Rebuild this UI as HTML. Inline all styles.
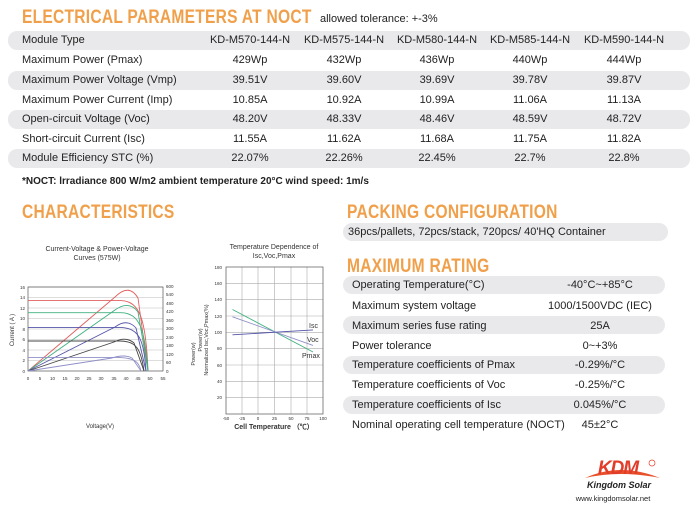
<!DOCTYPE html>
<html><head><meta charset="utf-8"><style>
body{margin:0;width:699px;height:518px;background:#fff;position:relative;overflow:hidden;font-family:"Liberation Sans",sans-serif;color:#222}
.a{position:absolute;white-space:nowrap}
.h{color:#f0a04b;font-weight:bold;font-size:19px;letter-spacing:0.3px;transform:scaleX(0.82);transform-origin:left top}
.g{position:absolute;background:#e9e9ec;border-radius:9px}
.t{font-size:11px}
.c{position:absolute;font-size:11px;text-align:center;width:100px;white-space:nowrap}
</style></head><body>
<div class="a h" style="left:22px;top:7px">ELECTRICAL PARAMETERS AT NOCT</div>
<div class="a" style="left:320px;top:13px;font-size:11px">allowed tolerance: +-3%</div>

<div class="g" style="left:8px;top:31px;width:682px;height:19px"></div>
<div class="g" style="left:8px;top:71px;width:682px;height:19px"></div>
<div class="g" style="left:8px;top:110px;width:682px;height:19px"></div>
<div class="g" style="left:8px;top:149px;width:682px;height:19px"></div>

<div class="a t" style="left:22px;top:34px">Module Type</div>
<div class="a t" style="left:22px;top:54px">Maximum Power (Pmax)</div>
<div class="a t" style="left:22px;top:74px">Maximum Power Voltage (Vmp)</div>
<div class="a t" style="left:22px;top:94px">Maximum Power Current (Imp)</div>
<div class="a t" style="left:22px;top:113px">Open-circuit Voltage (Voc)</div>
<div class="a t" style="left:22px;top:133px">Short-circuit Current (Isc)</div>
<div class="a t" style="left:22px;top:152px">Module Efficiency STC (%)</div>

<div class="c" style="left:200px;top:34px">KD-M570-144-N</div>
<div class="c" style="left:294px;top:34px">KD-M575-144-N</div>
<div class="c" style="left:387px;top:34px">KD-M580-144-N</div>
<div class="c" style="left:480px;top:34px">KD-M585-144-N</div>
<div class="c" style="left:574px;top:34px">KD-M590-144-N</div>

<div class="c" style="left:200px;top:54px">429Wp</div><div class="c" style="left:294px;top:54px">432Wp</div><div class="c" style="left:387px;top:54px">436Wp</div><div class="c" style="left:480px;top:54px">440Wp</div><div class="c" style="left:574px;top:54px">444Wp</div>
<div class="c" style="left:200px;top:74px">39.51V</div><div class="c" style="left:294px;top:74px">39.60V</div><div class="c" style="left:387px;top:74px">39.69V</div><div class="c" style="left:480px;top:74px">39.78V</div><div class="c" style="left:574px;top:74px">39.87V</div>
<div class="c" style="left:200px;top:94px">10.85A</div><div class="c" style="left:294px;top:94px">10.92A</div><div class="c" style="left:387px;top:94px">10.99A</div><div class="c" style="left:480px;top:94px">11.06A</div><div class="c" style="left:574px;top:94px">11.13A</div>
<div class="c" style="left:200px;top:113px">48.20V</div><div class="c" style="left:294px;top:113px">48.33V</div><div class="c" style="left:387px;top:113px">48.46V</div><div class="c" style="left:480px;top:113px">48.59V</div><div class="c" style="left:574px;top:113px">48.72V</div>
<div class="c" style="left:200px;top:133px">11.55A</div><div class="c" style="left:294px;top:133px">11.62A</div><div class="c" style="left:387px;top:133px">11.68A</div><div class="c" style="left:480px;top:133px">11.75A</div><div class="c" style="left:574px;top:133px">11.82A</div>
<div class="c" style="left:200px;top:152px">22.07%</div><div class="c" style="left:294px;top:152px">22.26%</div><div class="c" style="left:387px;top:152px">22.45%</div><div class="c" style="left:480px;top:152px">22.7%</div><div class="c" style="left:574px;top:152px">22.8%</div>

<div class="a" style="left:22px;top:176px;font-size:10px;font-weight:bold">*NOCT: lrradiance 800 W/m2 ambient temperature 20°C wind speed: 1m/s</div>

<div class="a h" style="left:22px;top:202px">CHARACTERISTICS</div>
<div class="a h" style="left:347px;top:202px">PACKING CONFIGURATION</div>
<div class="g" style="left:343px;top:223px;width:325px;height:18px"></div>
<div class="a t" style="left:348px;top:226px">36pcs/pallets, 72pcs/stack, 720pcs/ 40'HQ Container</div>
<div class="a h" style="left:347px;top:256px">MAXIMUM RATING</div>

<div class="g" style="left:343px;top:276px;width:322px;height:18px"></div>
<div class="g" style="left:343px;top:316px;width:322px;height:18px"></div>
<div class="g" style="left:343px;top:356px;width:322px;height:18px"></div>
<div class="g" style="left:343px;top:396px;width:322px;height:18px"></div>
<div class="a t" style="left:352px;top:279px">Operating Temperature(°C)</div>
<div class="a t" style="left:352px;top:300px">Maximum system voltage</div>
<div class="a t" style="left:352px;top:320px">Maximum series fuse rating</div>
<div class="a t" style="left:352px;top:340px">Power tolerance</div>
<div class="a t" style="left:352px;top:359px">Temperature coefficients of Pmax</div>
<div class="a t" style="left:352px;top:379px">Temperature coefficients of Voc</div>
<div class="a t" style="left:352px;top:399px">Temperature coefficients of Isc</div>
<div class="a t" style="left:352px;top:419px">Nominal operating cell temperature (NOCT)</div>
<div class="c" style="left:540px;top:279px;width:120px">-40°C~+85°C</div>
<div class="c" style="left:540px;top:300px;width:120px">1000/1500VDC (IEC)</div>
<div class="c" style="left:540px;top:320px;width:120px">25A</div>
<div class="c" style="left:540px;top:340px;width:120px">0~+3%</div>
<div class="c" style="left:540px;top:359px;width:120px">-0.29%/°C</div>
<div class="c" style="left:540px;top:379px;width:120px">-0.25%/°C</div>
<div class="c" style="left:540px;top:399px;width:120px">0.045%/°C</div>
<div class="c" style="left:540px;top:419px;width:120px">45±2°C</div>

<svg class="a" style="left:0;top:0" width="699" height="518" font-family="Liberation Sans, sans-serif">
<text x="97" y="251" font-size="7" text-anchor="middle" fill="#333">Current-Voltage &amp; Power-Voltage</text>
<text x="97" y="260" font-size="7" text-anchor="middle" fill="#333">Curves (575W)</text>
<g stroke="#bbb" stroke-width="0.6">
<line x1="28" y1="287" x2="163" y2="287"/><line x1="28" y1="297.5" x2="163" y2="297.5"/><line x1="28" y1="308" x2="163" y2="308"/><line x1="28" y1="318.5" x2="163" y2="318.5"/><line x1="28" y1="329" x2="163" y2="329"/><line x1="28" y1="339.5" x2="163" y2="339.5"/><line x1="28" y1="350" x2="163" y2="350"/><line x1="28" y1="360.5" x2="163" y2="360.5"/>
</g>
<rect x="28" y="287" width="135" height="84" fill="none" stroke="#555" stroke-width="0.7"/>
<g font-size="4.5" fill="#333" text-anchor="end">
<text x="25" y="373">0</text><text x="25" y="362">2</text><text x="25" y="352">4</text><text x="25" y="341">6</text><text x="25" y="331">8</text><text x="25" y="320">10</text><text x="25" y="310">12</text><text x="25" y="299">14</text><text x="25" y="289">16</text>
</g>
<g font-size="4.5" fill="#333">
<text x="166" y="373">0</text><text x="166" y="364">60</text><text x="166" y="356">120</text><text x="166" y="347">180</text><text x="166" y="339">240</text><text x="166" y="330">300</text><text x="166" y="322">360</text><text x="166" y="313">420</text><text x="166" y="305">480</text><text x="166" y="296">540</text><text x="166" y="288">600</text>
</g>
<g font-size="4.5" fill="#333" text-anchor="middle">
<text x="28" y="380">0</text><text x="40" y="380">5</text><text x="52.5" y="380">10</text><text x="65" y="380">15</text><text x="77" y="380">20</text><text x="89" y="380">25</text><text x="101" y="380">30</text><text x="114" y="380">35</text><text x="126" y="380">40</text><text x="138" y="380">45</text><text x="150" y="380">50</text><text x="163" y="380">55</text>
</g>
<text x="14" y="330" font-size="6" transform="rotate(-90 14 330)" text-anchor="middle" fill="#333">Current ( A )</text>
<text x="195" y="354" font-size="5.5" transform="rotate(-90 195 354)" text-anchor="middle" fill="#333">Power(w)</text>
<text x="100" y="428" font-size="6" text-anchor="middle" fill="#333">Voltage(V)</text>
<g fill="none" stroke-width="0.9">
<path d="M28,300.6 L121,300.6 C140,301 146,320 148,371" stroke="#e06060"/>
<path d="M28,371 L115,297 Q129,283 138,298 L148,371" stroke="#e06060"/>
<path d="M28,312.7 L121,312.7 C140,313 145,330 148,371" stroke="#40b080"/>
<path d="M28,371 L115,310 Q129,300 138,312 L148,371" stroke="#40b080"/>
<path d="M28,327.4 L121,327.4 C139,328 144,340 146,371" stroke="#5555aa"/>
<path d="M28,371 L115,327 Q127,318 136,328 L146,371" stroke="#5555aa"/>
<path d="M28,341 L120,341 C137,341 141,350 144,371" stroke="#444"/>
<path d="M28,371 L114,342 Q126,336 134,343 L144,371" stroke="#444"/>
<path d="M28,357.4 L118,357.4 C135,358 139,362 141,371" stroke="#9090c8"/>
<path d="M28,371 L112,358 Q124,354 132,358 L141,371" stroke="#9090c8"/>
</g>

<text x="274" y="249" font-size="7" text-anchor="middle" fill="#333">Temperature Dependence of</text>
<text x="274" y="258" font-size="7" text-anchor="middle" fill="#333">Isc,Voc,Pmax</text>
<g stroke="#aaa" stroke-width="0.6">
<line x1="242" y1="267" x2="242" y2="414"/><line x1="258" y1="267" x2="258" y2="414"/><line x1="274.5" y1="267" x2="274.5" y2="414"/><line x1="291" y1="267" x2="291" y2="414"/><line x1="307" y1="267" x2="307" y2="414"/>
<line x1="226" y1="397.7" x2="323" y2="397.7"/><line x1="226" y1="381.3" x2="323" y2="381.3"/><line x1="226" y1="365" x2="323" y2="365"/><line x1="226" y1="348.7" x2="323" y2="348.7"/><line x1="226" y1="332.3" x2="323" y2="332.3"/><line x1="226" y1="316" x2="323" y2="316"/><line x1="226" y1="299.7" x2="323" y2="299.7"/><line x1="226" y1="283.3" x2="323" y2="283.3"/>
</g>
<rect x="226" y="267" width="97" height="147" fill="none" stroke="#555" stroke-width="0.7"/>
<g font-size="4.5" fill="#333" text-anchor="end">
<text x="222" y="399">20</text><text x="222" y="383">40</text><text x="222" y="367">60</text><text x="222" y="350">80</text><text x="222" y="334">100</text><text x="222" y="318">120</text><text x="222" y="301">140</text><text x="222" y="285">160</text><text x="222" y="269">180</text>
</g>
<g font-size="4.5" fill="#333" text-anchor="middle">
<text x="226" y="420">-50</text><text x="242" y="420">-25</text><text x="258" y="420">0</text><text x="274.5" y="420">25</text><text x="291" y="420">50</text><text x="307" y="420">75</text><text x="323" y="420">100</text>
</g>
<text x="208" y="340" font-size="5.5" transform="rotate(-90 208 340)" text-anchor="middle" fill="#333">Normalized Isc,Voc,Pmax(%)</text>
<text x="202" y="340" font-size="5.5" transform="rotate(-90 202 340)" text-anchor="middle" fill="#333">Power(w)</text>
<text x="274" y="429" font-size="7" font-weight="bold" text-anchor="middle" fill="#333">Cell Temperature （℃）</text>
<g stroke-width="0.9">
<line x1="232.5" y1="309.5" x2="313" y2="352" stroke="#40b080"/>
<line x1="232.5" y1="316.8" x2="313" y2="345.4" stroke="#9090c8"/>
<line x1="232.5" y1="334.8" x2="313" y2="329.9" stroke="#5555aa"/>
</g>
<g font-size="7" fill="#333"><text x="309" y="328">Isc</text><text x="307" y="342">Voc</text><text x="302" y="358">Pmax</text></g>

<path d="M585,478 Q620,462 660,478 Q620,470 585,478Z" fill="#e8502a"/>
<text x="618" y="474" font-size="19" font-weight="bold" font-style="italic" fill="#e23d2a" text-anchor="middle" letter-spacing="-1">KDM</text>
<circle cx="652" cy="463" r="3" fill="none" stroke="#e23d2a" stroke-width="0.7"/>
<text x="619" y="488" font-size="9" font-weight="bold" font-style="italic" fill="#222" text-anchor="middle">Kingdom Solar</text>
<text x="613" y="501" font-size="7.5" fill="#222" text-anchor="middle">www.kingdomsolar.net</text>
</svg>
</body></html>
